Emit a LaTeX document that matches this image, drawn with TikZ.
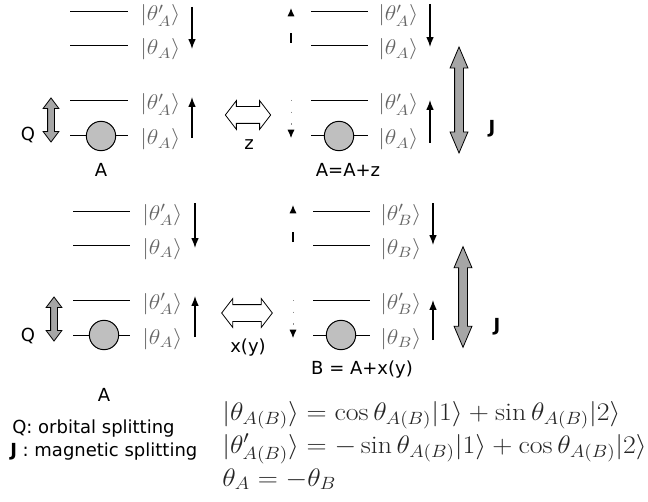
\RequirePackage{fix-cm}
\documentclass[tikz,border=0pt]{standalone}
\usepackage{fontspec}
\setsansfont{DejaVu Sans}
\usetikzlibrary{arrows.meta,shapes.arrows}
\newcommand{\wide}[2]{\scalebox{#1}[1]{$#2$}}
\tikzset{
	>={Latex[length=2.6mm, width=2mm]},
	lvl/.style={black, line width=0.75pt},
	ket/.style={black!60, font=\fontsize{16}{19}\selectfont, anchor=base west, inner sep=0pt},
	spin/.style={black, line width=1pt, ->},
	ghost/.style={black, line width=0.9pt, -{Latex[length=2.2mm, width=1.9mm]}},
	dots/.style={black!45, line width=0.7pt, dash pattern=on 0.8pt off 8pt, -{Latex[length=2.2mm, width=1.9mm, color=black]}},
	site/.style={circle, draw=black, fill=black!25, line width=0.75pt, minimum size=22pt, inner sep=0pt},
	splitarrow/.style={double arrow, draw=black, fill=black!35, line width=0.6pt, inner xsep=0pt, rotate=90},
	hollowarrow/.style={double arrow, draw=black, fill=white, line width=0.6pt, inner xsep=0pt, inner ysep=6pt,
		minimum height=34pt, double arrow head extend=4.5pt, double arrow tip angle=105},
	sanslbl/.style={font=\sffamily\fontsize{13.5}{16}\selectfont, anchor=base, inner sep=0pt},
	eq/.style={black!85, font=\fontsize{19}{23}\selectfont, anchor=base west, inner sep=0pt},
}

\begin{document}
\begin{tikzpicture}[x=0.75pt, y=-0.75pt]
	\useasboundingbox (0,0) rectangle (648,502);
	
	% upper left: site A
	\draw[lvl] (70,12)--(128,12);
	\draw[lvl] (70,46)--(128,46);
	\draw[lvl] (70,101)--(128,101);
	\draw[lvl] (70,136)--(128,136);
	\node[site] (sA) at (101,136) {};
	\node[ket] (kA1) at (140,21) {\wide{1.12}{|\theta'_A\rangle}};
	\node[ket] (kA2) at (140,55) {\wide{1.12}{|\theta_A\rangle}};
	\node[ket] (kA3) at (140,110) {\wide{1.12}{|\theta'_A\rangle}};
	\node[ket] (kA4) at (140,145) {\wide{1.12}{|\theta_A\rangle}};
	\draw[spin] (192,7)--(192,49);
	\draw[spin] (192,138)--(192,97);
	\node[splitarrow, inner ysep=2.25pt, minimum height=33pt, double arrow head extend=3.4pt,
		double arrow tip angle=74] (qA) at (51,120) {};
	\node[sanslbl] (lQ1) at (28,141) {Q};
	\node[sanslbl] (lA1) at (101,176) {A};
	
	% shift z
	\node[hollowarrow] (zarr) at (248,115) {};
	\node[sanslbl] (lz) at (249,150) {z};
	
	% upper right: site A+z
	\draw[ghost, dash pattern=on 7.5pt off 20pt] (291,43)--(291,8);
	\draw[dots] (291,100)--(291,138);
	\draw[lvl] (311,12)--(368,12);
	\draw[lvl] (311,46)--(368,46);
	\draw[lvl] (311,101)--(368,101);
	\draw[lvl] (311,136)--(368,136);
	\node[site] (sAz) at (339,136) {};
	\node[ket] (kZ1) at (378,21) {\wide{1.12}{|\theta'_A\rangle}};
	\node[ket] (kZ2) at (378,55) {\wide{1.12}{|\theta_A\rangle}};
	\node[ket] (kZ3) at (378,110) {\wide{1.12}{|\theta'_A\rangle}};
	\node[ket] (kZ4) at (378,145) {\wide{1.12}{|\theta_A\rangle}};
	\draw[spin] (430,4)--(430,47);
	\draw[spin] (430,143)--(430,100);
	\node[sanslbl] (lAz) at (348,176) {A=A+z};
	\node[splitarrow, inner ysep=3pt, minimum height=79.5pt, double arrow head extend=3.4pt,
		double arrow tip angle=46] (jA) at (459,100) {};
	\node[sanslbl, font=\sffamily\bfseries\fontsize{13.5}{16}\selectfont] (lJ1) at (492,134) {J};
	
	% lower left: site A
	\draw[lvl] (73,211)--(130,211);
	\draw[lvl] (73,245)--(130,245);
	\draw[lvl] (73,300)--(130,300);
	\draw[lvl] (73,335)--(130,335);
	\node[site] (sA') at (104,335) {};
	\node[ket] (kB1) at (142,220) {\wide{1.12}{|\theta'_A\rangle}};
	\node[ket] (kB2) at (142,254) {\wide{1.12}{|\theta_A\rangle}};
	\node[ket] (kB3) at (142,309) {\wide{1.12}{|\theta'_A\rangle}};
	\node[ket] (kB4) at (142,344) {\wide{1.12}{|\theta_A\rangle}};
	\draw[spin] (195,203)--(195,248);
	\draw[spin] (195,337)--(195,296);
	\node[splitarrow, inner ysep=2.25pt, minimum height=33pt, double arrow head extend=3.4pt,
		double arrow tip angle=74] (qB) at (54,319) {};
	\node[sanslbl] (lQ2) at (28,341) {Q};
	\node[sanslbl] (lA2) at (104,401) {A};
	
	% shift x(y)
	\node[hollowarrow, minimum height=38pt] (xarr) at (247,313) {};
	\node[sanslbl] (lxy) at (248,352) {x(y)};
	
	% lower right: site B
	\draw[ghost, dash pattern=on 7.5pt off 20pt] (293,242)--(293,205);
	\draw[dots] (293,300)--(293,338);
	\draw[lvl] (313,211)--(370,211);
	\draw[lvl] (313,245)--(370,245);
	\draw[lvl] (313,300)--(370,300);
	\draw[lvl] (313,335)--(370,335);
	\node[site] (sB) at (341,335) {};
	\node[ket] (kC1) at (380,220) {\wide{1.12}{|\theta'_B\rangle}};
	\node[ket] (kC2) at (380,254) {\wide{1.12}{|\theta_B\rangle}};
	\node[ket] (kC3) at (380,309) {\wide{1.12}{|\theta'_B\rangle}};
	\node[ket] (kC4) at (380,344) {\wide{1.12}{|\theta_B\rangle}};
	\draw[spin] (433,203)--(433,245);
	\draw[spin] (433,340)--(433,300);
	\node[sanslbl] (lB) at (362,374) {B = A+x(y)};
	\node[splitarrow, inner ysep=3pt, minimum height=75.5pt, double arrow head extend=3.4pt,
		double arrow tip angle=46] (jB) at (463,297) {};
	\node[sanslbl, font=\sffamily\bfseries\fontsize{13.5}{16}\selectfont] (lJ2) at (497,331) {J};
	
	% legend and definitions
	\node[sanslbl, anchor=base west] (legQ) at (12,433) {Q: orbital splitting};
	\node[sanslbl, anchor=base west] (legJ) at (10,456) {\textbf{J} : magnetic splitting};
	\node[eq] (eq1) at (222,420) {\wide{1.1}{|\theta_{A(B)}\rangle = \cos\theta_{A(B)}|1\rangle + \sin\theta_{A(B)}|2\rangle}};
	\node[eq] (eq2) at (222,453) {\wide{1.1}{|\theta'_{A(B)}\rangle = -\sin\theta_{A(B)}|1\rangle + \cos\theta_{A(B)}|2\rangle}};
	\node[eq] (eq3) at (222,486) {\wide{1.1}{\theta_A = -\theta_B}};
\end{tikzpicture}
\end{document}
